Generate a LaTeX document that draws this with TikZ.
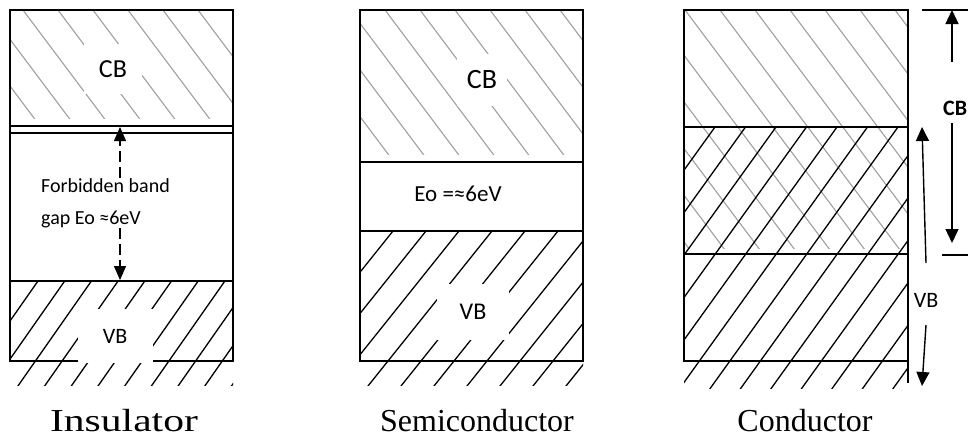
\documentclass[tikz,border=0pt]{standalone}
\usepackage{fontspec}
\setmainfont{Liberation Serif}
\newfontfamily\bandfont{Carlito}
\usetikzlibrary{
  arrows.meta,
  positioning
}
\definecolor{HatchGray}{RGB}{160,160,160}
\tikzset{
  bandbox/.style={draw=black, line width=1.4pt},
  grayhatch/.style={draw=HatchGray, line width=1.1pt},
  blackhatch/.style={draw=black, line width=1.3pt},
  bandlabel/.style={font=\bandfont\fontsize{26}{30}\selectfont, fill=white, inner sep=0pt},
  caption/.style={font=\fontsize{32}{38}\selectfont, inner sep=0pt},
  solidarrow/.style={line width=1.4pt, -{Triangle[length=14pt,width=13pt]}},
  gaparrow/.style={line width=1.3pt, dash pattern=on 11pt off 5pt, -{Triangle[length=14pt,width=12pt]}}
}

\begin{document}
\begin{tikzpicture}[x=1pt, y=-1pt]
  \useasboundingbox (0,0) rectangle (968,440);

  % ---------------- Insulator ----------------
  \begin{scope}
    \clip (10,10) rectangle (233,118);
    \foreach \k in {-4,...,7}
      \draw[grayhatch] (23+35*\k,10) -- ++(97.5,130);
  \end{scope}
  \begin{scope}
    \clip (10,281) rectangle (233,385);
    \foreach \k in {-1,...,11}
      \draw[blackhatch] (38+26.7*\k,281) -- ++(-84,120);
  \end{scope}
  \draw[bandbox] (10,10) rectangle (233,361);
  \draw[bandbox] (10,126) -- (233,126);
  \draw[bandbox] (10,133) -- (233,133);
  \draw[bandbox] (10,281) -- (233,281);
  \node[bandlabel, minimum width=58pt, minimum height=50pt] (cbins) at (113,69) {CB};
  \node[bandlabel, font=\bandfont\fontsize{22}{26}\selectfont, minimum width=75pt, minimum height=54pt] (vbins) at (115,336) {VB};
  \node[font=\bandfont\fontsize{20}{32}\selectfont, align=left, anchor=west, inner sep=0pt] (gaplbl) at (41,203)
    {Forbidden band\\gap Eo ≈6eV};
  \coordinate (gaptop) at (120,127);
  \coordinate (gapbot) at (120,280);
  \draw[gaparrow] (gaplbl.north -| gaptop) -- (gaptop);
  \draw[gaparrow] (gaplbl.south -| gapbot) -- (gapbot);

  % ---------------- Semiconductor ----------------
  \begin{scope}
    \clip (360,10) rectangle (583,154);
    \foreach \k in {-5,...,7}
      \draw[grayhatch] (385+35*\k,10) -- ++(120,160);
  \end{scope}
  \begin{scope}
    \clip (360,231) rectangle (583,385);
    \foreach \k in {-1,...,10}
      \draw[blackhatch] (393+33*\k,231) -- ++(-128,160);
  \end{scope}
  \draw[bandbox] (360,10) rectangle (583,361);
  \draw[bandbox] (360,162) -- (583,162);
  \draw[bandbox] (360,231) -- (583,231);
  \node[bandlabel, font=\bandfont\fontsize{28}{32}\selectfont, minimum width=50pt, minimum height=52pt] (cbsemi) at (482,80) {CB};
  \node[font=\bandfont\fontsize{23}{28}\selectfont, inner sep=0pt] (eosemi) at (458,194) {Eo =≈6eV};
  \node[bandlabel, font=\bandfont\fontsize{24}{28}\selectfont, minimum width=72pt, minimum height=56pt] (vbsemi) at (473,312) {VB};

  % ---------------- Conductor ----------------
  \begin{scope}
    \clip (684,10) rectangle (908,248);
    \foreach \k in {-7,...,7}
      \draw[grayhatch] (685+35*\k,10) -- ++(180,240);
  \end{scope}
  \begin{scope}
    \clip (684,127) rectangle (908,388);
    \foreach \k in {-1,...,15}
      \draw[blackhatch] (715+30.5*\k,127) -- ++(-194,270);
  \end{scope}
  \draw[bandbox] (684,10) rectangle (908,361);
  \draw[bandbox] (684,127) -- (908,127);
  \draw[bandbox] (684,254) -- (908,254);
  \draw[bandbox] (908,361) -- (908,383);

  % band widths on the right
  \draw[bandbox] (922,10) -- (968,10);
  \draw[bandbox] (942,255) -- (968,255);
  \node[font=\bandfont\bfseries\fontsize{22}{26}\selectfont, anchor=west, inner sep=0pt] (cbcond) at (943,108) {CB};
  \node[font=\bandfont\fontsize{22}{26}\selectfont, inner sep=0pt] (vbcond) at (926,300) {VB};
  \coordinate (cbtop) at (952,10);
  \coordinate (cbbot) at (952,243);
  \coordinate (vbtop) at (922,127);
  \coordinate (vbbot) at (922,386);
  \draw[solidarrow] (952,62) -- (cbtop);
  \draw[solidarrow] (952,123) -- (cbbot);
  \draw[solidarrow] (vbcond.north |- 0,263) -- (vbtop);
  \draw[solidarrow] (vbcond.south |- 0,325) -- (vbbot);

  % ---------------- captions ----------------
  \node[caption] (capins) at (124,421) {\scalebox{1.3}[1]{Insulator}};
  \node[caption] (capsemi) at (477,421) {Semiconductor};
  \node[caption] (capcond) at (805,421) {Conductor};
\end{tikzpicture}
\end{document}
